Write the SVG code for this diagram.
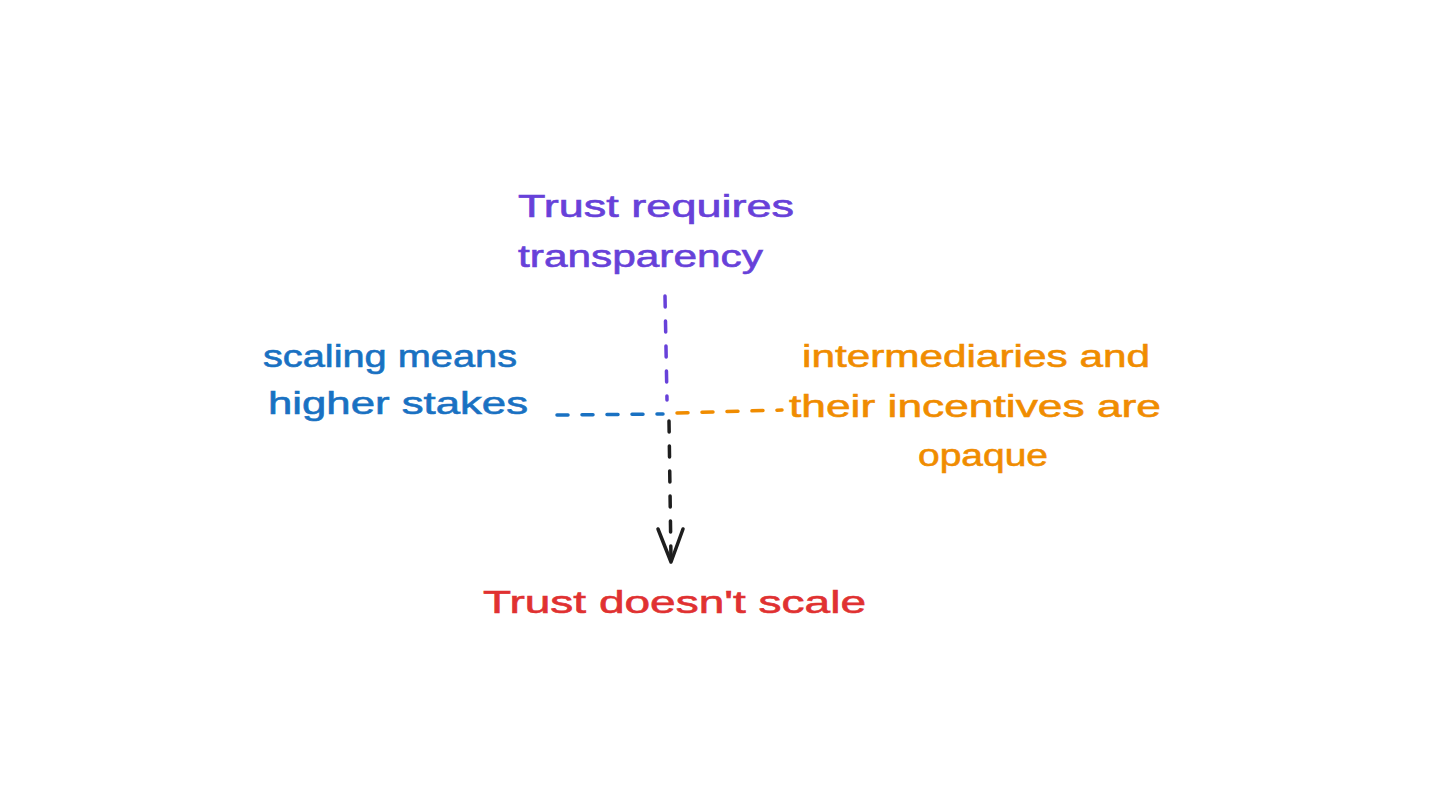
<svg xmlns="http://www.w3.org/2000/svg" width="1440" height="810" viewBox="0 0 1440 810">
  <defs>
    <style>
      .t { font-family: "Liberation Sans", "Noto Sans", sans-serif; font-size: 32px; stroke-width: 0.6px; }
      .purple { fill: #6741d9; stroke: #6741d9; }
      .blue { fill: #1971c2; stroke: #1971c2; }
      .orange { fill: #f08c00; stroke: #f08c00; }
      .red { fill: #e03131; stroke: #e03131; }
      .dash { fill: none; stroke-width: 3.5; stroke-linecap: round; stroke-dasharray: 11 14; }
    </style>
  </defs>
  <rect width="1440" height="810" fill="#ffffff"/>
  <g id="connectors">
    <path class="dash" stroke="#6741d9" d="M665 296 L667 400"/>
    <path class="dash" stroke="#1971c2" d="M557 415 L663 414"/>
    <path class="dash" stroke="#f08c00" d="M677 413 L782 410"/>
    <path class="dash" stroke="#1e1e1e" d="M669 421 L671 560"/>
    <path fill="none" stroke="#1e1e1e" stroke-width="3.5" stroke-linecap="round" stroke-linejoin="round" d="M658 529 L671 562 L683 529"/>
  </g>
  <g id="node-trust-requires">
    <text class="t purple" x="518" y="217" textLength="276" lengthAdjust="spacingAndGlyphs">Trust requires</text>
    <text class="t purple" x="518" y="267" textLength="245" lengthAdjust="spacingAndGlyphs">transparency</text>
  </g>
  <g id="node-scaling">
    <text class="t blue" x="263" y="367" textLength="254" lengthAdjust="spacingAndGlyphs">scaling means</text>
    <text class="t blue" x="268" y="414" textLength="260" lengthAdjust="spacingAndGlyphs">higher stakes</text>
  </g>
  <g id="node-intermediaries">
    <text class="t orange" x="802" y="367" textLength="348" lengthAdjust="spacingAndGlyphs">intermediaries and</text>
    <text class="t orange" x="789" y="417" textLength="372" lengthAdjust="spacingAndGlyphs">their incentives are</text>
    <text class="t orange" x="918" y="466" textLength="130" lengthAdjust="spacingAndGlyphs">opaque</text>
  </g>
  <g id="node-trust-doesnt-scale">
    <text class="t red" x="483" y="613" textLength="383" lengthAdjust="spacingAndGlyphs">Trust doesn't scale</text>
  </g>
</svg>
